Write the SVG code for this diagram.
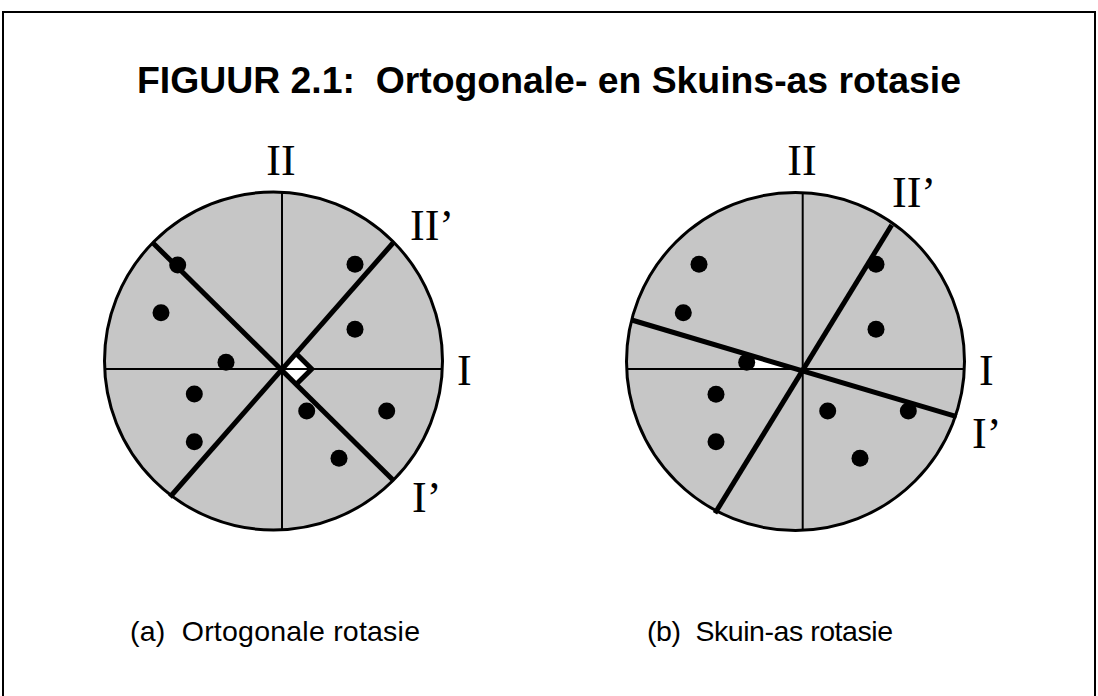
<svg xmlns="http://www.w3.org/2000/svg" width="1098" height="696" viewBox="0 0 1098 696">
<style>
.disc{fill:#c6c6c6;stroke:#000;stroke-width:3}
.thin{stroke:#000;stroke-width:2;fill:none}
.thick{stroke:#000;stroke-width:5;fill:none}
.dot{fill:#000}
.lab{font-family:"Liberation Serif",serif;font-size:44px;fill:#000}
.title{font-family:"Liberation Sans",Arial,sans-serif;font-weight:bold;font-size:37px;fill:#000;white-space:pre}
.cap{font-family:"Liberation Sans",Arial,sans-serif;font-size:28.5px;fill:#000;white-space:pre}
</style>
<rect width="1098" height="696" fill="#fff"/>
<g id="frame">
<path d="M3,700 V12 H1095 V700" fill="none" stroke="#000" stroke-width="2"/>
</g>
<g id="title"><text class="title" x="137" y="93" textLength="824" lengthAdjust="spacingAndGlyphs" xml:space="preserve">FIGUUR 2.1:  Ortogonale- en Skuins-as rotasie</text></g>

<g id="circle-a">
<circle class="disc" cx="273.5" cy="361" r="169"/>
<polygon points="282,369 296.8,354.2 311.7,369 296.8,383.8" fill="#fff"/>
<line class="thin" x1="282" y1="192" x2="282" y2="530"/>
<line class="thin" x1="105" y1="369" x2="442" y2="369"/>
<line class="thick" x1="153" y1="243" x2="393" y2="480"/>
<line class="thick" x1="393" y1="243" x2="170" y2="497"/>
<polyline class="thick" points="296.8,354.2 311.7,369 296.8,383.8" stroke-width="4"/>
<circle class="dot" cx="177.7" cy="265" r="8.5"/>
<circle class="dot" cx="161" cy="312.7" r="8.5"/>
<circle class="dot" cx="226" cy="362.3" r="8.5"/>
<circle class="dot" cx="355" cy="264.3" r="8.5"/>
<circle class="dot" cx="355" cy="329.3" r="8.5"/>
<circle class="dot" cx="194.3" cy="394" r="8.5"/>
<circle class="dot" cx="194.3" cy="441.7" r="8.5"/>
<circle class="dot" cx="306.7" cy="411" r="8.5"/>
<circle class="dot" cx="386.7" cy="411" r="8.5"/>
<circle class="dot" cx="339" cy="458.3" r="8.5"/>
<text class="lab" x="281" y="175" text-anchor="middle">II</text>
<text class="lab" x="410" y="240">II’</text>
<text class="lab" x="457" y="385">I</text>
<text class="lab" x="412" y="512">I’</text>
</g>

<g id="circle-b">
<circle class="disc" cx="795.5" cy="361.5" r="169"/>
<polygon points="750,368 750,358 792,368" fill="#fff"/>
<line class="thin" x1="802.7" y1="193" x2="802.7" y2="530"/>
<line class="thin" x1="627" y1="369" x2="964" y2="369"/>
<line class="thick" x1="891.7" y1="225" x2="715" y2="513.3"/>
<line class="thick" x1="631.7" y1="320" x2="956.7" y2="416.7"/>
<circle class="dot" cx="699" cy="264.3" r="8.5"/>
<circle class="dot" cx="683.3" cy="312.7" r="8.5"/>
<circle class="dot" cx="746.7" cy="362.3" r="8.5"/>
<circle class="dot" cx="876" cy="264.3" r="8.5"/>
<circle class="dot" cx="876" cy="329.3" r="8.5"/>
<circle class="dot" cx="716" cy="394.3" r="8.5"/>
<circle class="dot" cx="716" cy="441.7" r="8.5"/>
<circle class="dot" cx="827.7" cy="411" r="8.5"/>
<circle class="dot" cx="908.3" cy="411" r="8.5"/>
<circle class="dot" cx="860" cy="458.3" r="8.5"/>
<text class="lab" x="802" y="175" text-anchor="middle">II</text>
<text class="lab" x="892" y="207">II’</text>
<text class="lab" x="979" y="385">I</text>
<text class="lab" x="972" y="448">I’</text>
</g>

<g id="captions">
<text class="cap" x="130" y="641" textLength="290" xml:space="preserve">(a)  Ortogonale rotasie</text>
<text class="cap" x="647" y="641" textLength="246" xml:space="preserve">(b)  Skuin-as rotasie</text>
</g>
</svg>
